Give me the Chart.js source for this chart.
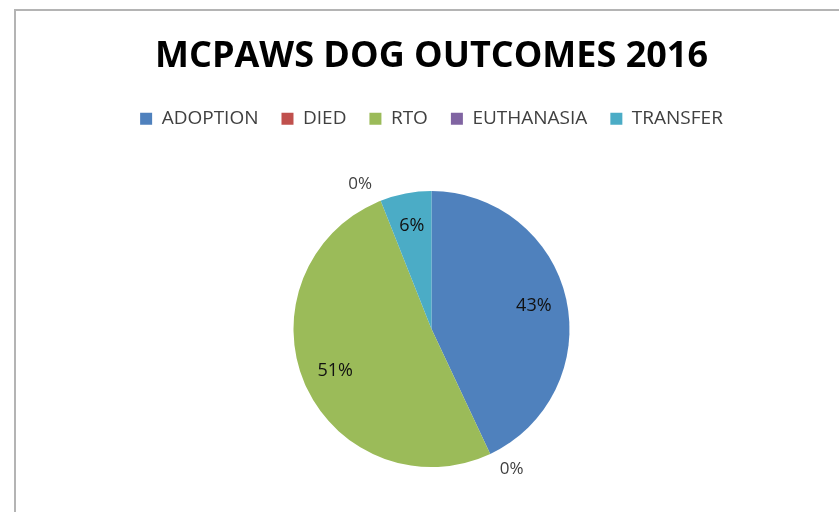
<!DOCTYPE html>
<html>
<head>
<meta charset="utf-8">
<script src="https://cdn.jsdelivr.net/npm/chart.js@4.4.0/dist/chart.umd.min.js"></script>
<style>
  html, body { margin: 0; padding: 0; background: #fff; }
  #wrap { position: relative; width: 839px; height: 512px; overflow: hidden; }
  #frame { position: absolute; left: 14px; top: 9px; width: 900px; height: 600px;
           border-left: 2px solid #b4b4b4; border-top: 2px solid #b4b4b4; }
  #chartPie { position: absolute; left: 0; top: 0; }
</style>
</head>
<body>
<div id="wrap">
  <div id="frame"></div>
  <canvas id="chartPie" width="839" height="512"></canvas>
</div>
<script>
// данные диаграммы
var categories = ['ADOPTION', 'DIED', 'RTO', 'EUTHANASIA', 'TRANSFER'];
var percents = [43, 0, 51, 0, 6];
var sliceColors = ['#4F81BD', '#C0504D', '#9BBB59', '#8064A2', '#4BACC6'];

// подписи процентов на секторах
var pctLabels = {
    id: 'pctLabels',
    beforeInit: function (chart) {
        // лишнее место под легендой, чтобы круг опустился
        var fit = chart.legend.fit;
        chart.legend.fit = function () {
            fit.call(this);
            this.height += 8;
        };
    },
    afterDatasetsDraw: function (chart) {
        var ctx = chart.ctx;
        var meta = chart.getDatasetMeta(0);
        ctx.save();
        ctx.textAlign = 'center';
        ctx.textBaseline = 'middle';
        meta.data.forEach(function (arc, i) {
            var p = arc.getProps(['x', 'y', 'startAngle', 'endAngle', 'outerRadius'], true);
            var v = chart.data.datasets[0].data[i];
            var a, r;
            if (v === 0) {
                a = p.endAngle - 0.08;
                r = p.outerRadius * 1.17;
                ctx.fillStyle = '#404040';
                ctx.font = '17px "Open Sans"';
            } else {
                a = (p.startAngle + p.endAngle) / 2;
                r = p.outerRadius * 0.76;
                ctx.fillStyle = '#111';
                ctx.font = '18px "Open Sans"';
            }
            ctx.fillText(v + '%', p.x + Math.cos(a) * r, p.y + Math.sin(a) * r);
        });
        ctx.restore();
    }
};

var pieChart = new Chart(document.getElementById('chartPie'), {
    type: 'pie',
    data: {
        labels: categories,
        datasets: [
            {
                data: percents,
                backgroundColor: sliceColors,
                borderWidth: 0
            }
        ]
    },
    options: {
        responsive: false,
        animation: false,
        radius: 138,
        layout: { padding: { left: 24, right: 0, top: 0, bottom: 0 } },
        plugins: {
            title: {
                display: true,
                text: 'MCPAWS DOG OUTCOMES 2016',
                color: '#000',
                font: { family: 'Open Sans', size: 36, weight: 'bold' },
                padding: { top: 35, bottom: 8 }
            },
            legend: {
                position: 'top',
                labels: {
                    color: '#404040',
                    font: { family: 'Open Sans', size: 19 },
                    boxWidth: 12,
                    boxHeight: 12,
                    padding: 23
                }
            },
            tooltip: { enabled: false }
        }
    },
    plugins: [pctLabels]
});
</script>
</body>
</html>
